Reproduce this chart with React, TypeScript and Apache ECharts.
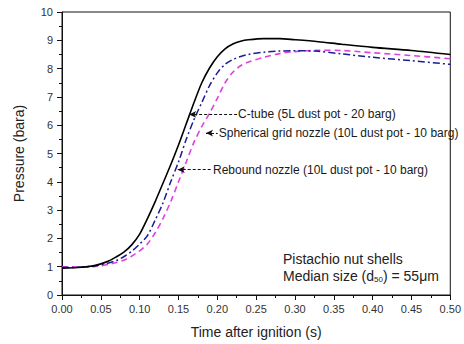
import React, { useEffect, useRef } from "react";
import * as echarts from "echarts";

// Time after ignition (s), shared by the three pressure traces
const timeS = [
  0, 0.02, 0.04, 0.05, 0.06, 0.07, 0.08, 0.09, 0.1, 0.11, 0.12, 0.13, 0.14, 0.15,
  0.16, 0.17, 0.18, 0.19, 0.2, 0.21, 0.22, 0.23, 0.24, 0.26, 0.28, 0.3, 0.33,
  0.36, 0.4, 0.45, 0.5,
];

// Pressure (bara)
const cTube = [
  0.95, 0.97, 1.03, 1.1, 1.2, 1.35, 1.52, 1.78, 2.15, 2.7, 3.3, 3.95, 4.6, 5.3,
  6.05, 6.8, 7.5, 8.02, 8.42, 8.7, 8.87, 8.97, 9.02, 9.06, 9.06, 9.02, 8.95, 8.86,
  8.75, 8.64, 8.5,
];
const rebound = [
  0.97, 0.98, 1.02, 1.07, 1.13, 1.22, 1.36, 1.55, 1.8, 2.1, 2.65, 3.25, 4.0,
  4.7, 5.5, 6.2, 6.8, 7.4, 7.85, 8.15, 8.32, 8.43, 8.5, 8.58, 8.62, 8.63, 8.61,
  8.52, 8.4, 8.28, 8.15,
];
const spherical = [
  1.0, 0.99, 1.0, 1.03, 1.08, 1.15, 1.24, 1.38, 1.56, 1.8, 2.2, 2.7, 3.3, 4.0,
  4.7, 5.4, 5.95, 6.42, 6.95, 7.5, 7.87, 8.1, 8.23, 8.4, 8.53, 8.6, 8.65, 8.64,
  8.56, 8.46, 8.35,
];

const seriesNames = [
  "C-tube (5L dust pot - 20 barg)",
  "Spherical grid nozzle (10L dust pot - 10 barg)",
  "Rebound nozzle (10L dust pot - 10 barg)",
];

// Callout leaders: [tip time, text time, pressure]
const calloutCTube = [0.1637, 0.2255, 6.38];
const calloutSpherical = [0.1854, 0.2005, 5.72];
const calloutRebound = [0.149, 0.1931, 4.43];

const xTicks = [0, 0.05, 0.1, 0.15, 0.2, 0.25, 0.3, 0.35, 0.4, 0.45, 0.5];

const FONT = "Liberation Sans, Arial, sans-serif";

function pairs(ys: number[]) {
  return timeS.map((t, i) => [t, ys[i]]);
}

function callout(c: number[], text: string) {
  return {
    silent: true,
    symbol: ["arrow", "none"],
    symbolSize: [5, 7],
    lineStyle: { color: "#111", type: [3, 2], width: 1 },
    label: {
      show: true,
      position: "end",
      distance: 1,
      formatter: text,
      color: "#1a1a1a",
      fontFamily: FONT,
      fontSize: 12,
    },
    data: [[{ coord: [c[0], c[2]] }, { coord: [c[1], c[2]] }]],
  };
}

export default function App() {
  const ref = useRef<HTMLDivElement>(null);

  useEffect(() => {
    if (!ref.current) return;
    const chart = echarts.init(ref.current, null, { renderer: "svg" });
    chart.setOption({
      animation: false,
      backgroundColor: "#fff",
      textStyle: { fontFamily: FONT },
      grid: {
        left: 62,
        right: 11,
        top: 12,
        bottom: 48,
        show: true,
        borderColor: "#111",
        borderWidth: 1,
      },
      xAxis: {
        type: "value",
        min: 0,
        max: 0.5,
        interval: 0.05,
        name: "Time after ignition (s)",
        nameLocation: "middle",
        nameGap: 30,
        nameTextStyle: { fontSize: 14, color: "#222", fontFamily: FONT },
        axisLine: { lineStyle: { color: "#111", width: 1 } },
        axisTick: { show: true, length: 5, lineStyle: { color: "#111" } },
        minorTick: { show: true, splitNumber: 2, length: 3, lineStyle: { color: "#111" } },
        splitLine: { show: false },
        axisLabel: {
          fontSize: 11,
          color: "#333",
          margin: 8,
          showMaxLabel: true,
          formatter: (v: number) =>
            xTicks.some((t) => Math.abs(t - v) < 1e-9) ? v.toFixed(2) : "",
        },
      },
      yAxis: {
        type: "value",
        min: 0,
        max: 10,
        interval: 1,
        name: "Pressure (bara)",
        nameLocation: "middle",
        nameGap: 36,
        nameRotate: 90,
        nameTextStyle: { fontSize: 14, color: "#222", fontFamily: FONT },
        axisLine: { show: true, lineStyle: { color: "#111", width: 1 } },
        axisTick: { show: true, length: 5, lineStyle: { color: "#111" } },
        minorTick: { show: true, splitNumber: 2, length: 3, lineStyle: { color: "#111" } },
        splitLine: { show: false },
        axisLabel: { fontSize: 11, color: "#333", margin: 9 },
      },
      series: [
        {
          name: seriesNames[0],
          type: "line",
          data: pairs(cTube),
          smooth: 0.3,
          showSymbol: false,
          lineStyle: { color: "#000", width: 1.6, type: "solid" },
          markLine: callout(calloutCTube, seriesNames[0]),
          z: 3,
        },
        {
          name: seriesNames[1],
          type: "line",
          data: pairs(spherical),
          smooth: 0.3,
          showSymbol: false,
          lineStyle: { color: "#e040e0", width: 1.6, type: [6, 4] },
          markLine: callout(calloutSpherical, seriesNames[1]),
          z: 2,
        },
        {
          name: seriesNames[2],
          type: "line",
          data: pairs(rebound),
          smooth: 0.3,
          showSymbol: false,
          lineStyle: { color: "#1c1c96", width: 1.5, type: [7, 3, 2, 3] },
          markLine: callout(calloutRebound, seriesNames[2]),
          z: 2,
        },
      ],
      graphic: [
        {
          type: "text",
          left: 283,
          top: 250,
          style: {
            text: "Pistachio nut shells\nMedian size (d{sub|50}) = 55\u03bcm",
            fontFamily: FONT,
            fontSize: 14,
            lineHeight: 17,
            fill: "#222",
            rich: {
              sub: {
                fontSize: 8,
                fontFamily: FONT,
                fill: "#222",
                padding: [8, 0, 0, 0],
              },
            },
          },
        },
      ],
    });
    return () => chart.dispose();
  }, []);

  return (
    <div
      ref={ref}
      style={{ position: "fixed", left: 0, top: 0, width: 464, height: 344 }}
    />
  );
}
